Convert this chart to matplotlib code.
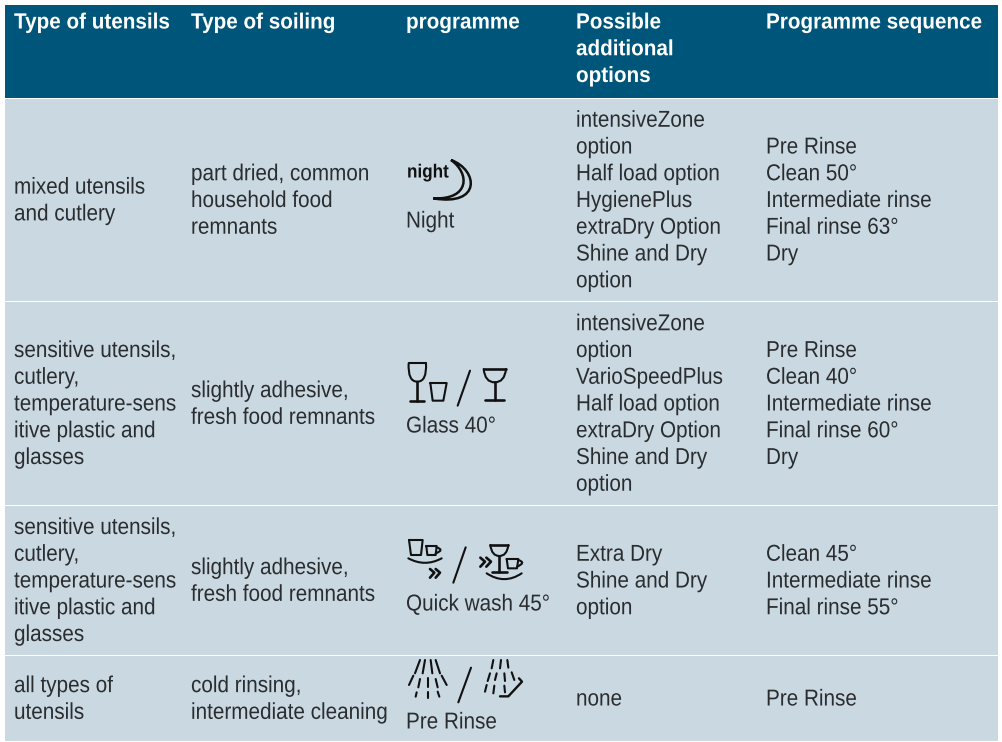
import matplotlib
matplotlib.use('Agg')
import matplotlib.pyplot as plt
from matplotlib.patches import Rectangle, PathPatch
from matplotlib.path import Path
from matplotlib.patheffects import AbstractPathEffect
from matplotlib.transforms import Affine2D

plt.rcParams['font.family'] = ['Liberation Sans', 'DejaVu Sans']

# table content
headers = ["Type of utensils", "Type of soiling", "programme",
           "Possible\nadditional\noptions", "Programme sequence"]
utensils = ["mixed utensils\nand cutlery",
            "sensitive utensils,\ncutlery,\ntemperature-sens\nitive plastic and\nglasses",
            "sensitive utensils,\ncutlery,\ntemperature-sens\nitive plastic and\nglasses",
            "all types of\nutensils"]
soiling = ["part dried, common\nhousehold food\nremnants",
           "slightly adhesive,\nfresh food remnants",
           "slightly adhesive,\nfresh food remnants",
           "cold rinsing,\nintermediate cleaning"]
programmes = ["Night", "Glass 40°", "Quick wash 45°", "Pre Rinse"]
options = ["intensiveZone\noption\nHalf load option\nHygienePlus\nextraDry Option\nShine and Dry\noption",
           "intensiveZone\noption\nVarioSpeedPlus\nHalf load option\nextraDry Option\nShine and Dry\noption",
           "Extra Dry\nShine and Dry\noption",
           "none"]
sequence = ["Pre Rinse\nClean 50°\nIntermediate rinse\nFinal rinse 63°\nDry",
            "Pre Rinse\nClean 40°\nIntermediate rinse\nFinal rinse 60°\nDry",
            "Clean 45°\nIntermediate rinse\nFinal rinse 55°",
            "Pre Rinse"]

# layout in pixels
col_x = [14, 191, 406, 576, 766]
row_top = [99, 302, 506, 656]
row_bot = [301, 505, 655, 741]
label_y = [220, 425, 603, 721]
line_h = 26.75
px = 0.72
fs = 23 * px
dark = '#2a2d2f'
lw_icon = 1.5


# no narrow font installed, so squeeze the glyphs sideways
class Condense(AbstractPathEffect):
    def __init__(self, sx):
        self.sx = sx

    def draw_path(self, renderer, gc, tpath, affine, rgbFace=None):
        renderer.draw_path(gc, tpath, Affine2D().scale(self.sx, 1) + affine, rgbFace)


fig = plt.figure(figsize=(10.02, 7.42), dpi=100)
ax = fig.add_axes([0, 0, 1, 1])
ax.set_xlim(0, 1002)
ax.set_ylim(742, 0)
ax.axis('off')

ax.add_patch(Rectangle((5, 5), 993, 93, fc='#00567a', ec='none'))
for t, b in zip(row_top, row_bot):
    ax.add_patch(Rectangle((5, t), 993, b - t, fc='#cad8e2', ec='none'))


def put(x, y, s, sx=0.9, **kw):
    kw.setdefault('color', dark)
    kw.setdefault('fontsize', fs)
    ax.text(x, y, s, ha='left', va='center_baseline', path_effects=[Condense(sx)], **kw)


def put_lines(x, yc, s):
    lines = s.split('\n')
    y0 = yc - line_h * (len(lines) - 1) / 2
    for i, l in enumerate(lines):
        put(x, y0 + i * line_h, l)


for x, h in zip(col_x, headers):
    for i, l in enumerate(h.split('\n')):
        put(x, 20.5 + i * line_h, l, sx=0.94, color='white', fontweight='bold', fontsize=22 * px)

for r in range(4):
    yc = (row_top[r] + row_bot[r]) / 2 - 2
    put_lines(col_x[0], yc, utensils[r])
    put_lines(col_x[1], yc, soiling[r])
    put_lines(col_x[3], yc, options[r])
    put_lines(col_x[4], yc, sequence[r])
    put(col_x[2], label_y[r] - 1.5, programmes[r])


def stroke(ox, oy, pts, lw=lw_icon):
    ax.plot([ox + p[0] / 3 for p in pts], [oy + p[1] / 3 for p in pts], color='#111111',
            lw=lw, solid_capstyle='round', solid_joinstyle='round')


def curve(ox, oy, a, c, b, lw=lw_icon):
    p = Path([(ox + q[0] / 3, oy + q[1] / 3) for q in (a, c, b)], [Path.MOVETO, Path.CURVE3, Path.CURVE3])
    ax.add_patch(PathPatch(p, fc='none', ec='#111111', lw=lw, capstyle='round'))


# night
put(407, 171, "night", fontsize=19 * px, color='#111111', fontweight='bold')
moon = [(168, 30), (250, 60), (260, 170), (115, 145), (225, 150), (225, 70), (168, 30)]
moon_codes = [Path.MOVETO, Path.CURVE4, Path.CURVE4, Path.CURVE4, Path.CURVE4, Path.CURVE4, Path.CURVE4]
ax.add_patch(PathPatch(Path([(395 + q[0] / 3, 150 + q[1] / 3) for q in moon], moon_codes),
                       fc='none', ec='#111111', lw=1.8))

# glass
ox, oy = 395, 355
stroke(ox, oy, [(41, 25), (93, 25)])
curve(ox, oy, (41, 25), (38, 80), (67, 80))
curve(ox, oy, (93, 25), (96, 80), (67, 80))
stroke(ox, oy, [(67, 80), (67, 137)], 1.9)
stroke(ox, oy, [(46, 137), (88, 137)], 1.9)
stroke(ox, oy, [(106, 84), (155, 84), (145, 137), (113, 137), (106, 84)])
stroke(ox, oy, [(225, 47), (188, 152)])
stroke(ox, oy, [(266, 42), (333, 42)], 1.9)
curve(ox, oy, (266, 42), (270, 82), (299, 82))
curve(ox, oy, (333, 42), (329, 82), (299, 82))
stroke(ox, oy, [(299, 82), (299, 135)], 1.9)
stroke(ox, oy, [(270, 135), (327, 135)], 1.9)

# quick wash
ox, oy = 395, 530
stroke(ox, oy, [(42, 30), (83, 30), (78, 75), (48, 75), (42, 30)])
stroke(ox, oy, [(94, 48), (125, 48), (122, 75), (97, 75), (94, 48)])
curve(ox, oy, (125, 52), (150, 60), (122, 70))
curve(ox, oy, (40, 85), (90, 112), (140, 85))
stroke(ox, oy, [(105, 117), (118, 128), (105, 143)], 1.9)
stroke(ox, oy, [(122, 117), (135, 128), (122, 143)], 1.9)
stroke(ox, oy, [(212, 52), (175, 158)])
stroke(ox, oy, [(256, 83), (270, 95), (256, 110)], 1.9)
stroke(ox, oy, [(274, 83), (288, 95), (274, 110)], 1.9)
stroke(ox, oy, [(286, 45), (340, 45)], 1.9)
curve(ox, oy, (286, 45), (290, 78), (313, 78))
curve(ox, oy, (340, 45), (336, 78), (313, 78))
stroke(ox, oy, [(313, 78), (313, 127)], 1.9)
stroke(ox, oy, [(292, 127), (335, 127)], 1.9)
stroke(ox, oy, [(335, 87), (370, 87), (366, 115), (339, 115), (335, 87)])
curve(ox, oy, (370, 90), (395, 98), (366, 110))
curve(ox, oy, (275, 130), (328, 165), (380, 130))

# pre rinse
ox, oy = 395, 655
left_rays = [((75, 15), (60, 55)), ((90, 15), (83, 55)), ((107, 15), (112, 55)), ((122, 15), (135, 55)),
             ((55, 62), (42, 90)), ((75, 72), (70, 97)), ((98, 70), (98, 97)), ((122, 72), (128, 97)),
             ((140, 62), (155, 90)), ((65, 112), (62, 125)), ((98, 112), (98, 130)), ((128, 110), (133, 125))]
right_rays = [((295, 15), (290, 40)), ((318, 15), (315, 40)), ((337, 15), (340, 38)),
              ((285, 55), (278, 78)), ((305, 55), (300, 75)), ((328, 55), (330, 78)), ((350, 52), (358, 75)),
              ((275, 90), (270, 110)), ((298, 92), (295, 115)), ((328, 92), (330, 112))]
for a, b in left_rays + right_rays:
    stroke(ox, oy, [a, b], 1.5)
stroke(ox, oy, [(228, 38), (190, 142)])
stroke(ox, oy, [(372, 70), (381, 80), (340, 124), (315, 124)], 1.7)

fig.savefig('out.png', dpi=100, facecolor='white')
